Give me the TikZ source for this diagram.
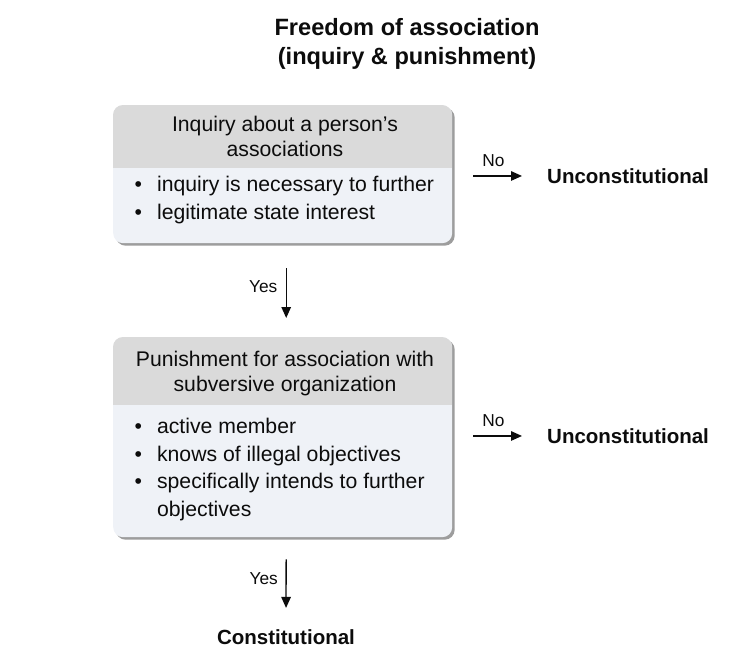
\documentclass[tikz,border=0pt]{standalone}
\usepackage{fontspec}
\setmainfont{Liberation Sans}
\usetikzlibrary{arrows.meta,shadows}
\definecolor{hdr}{RGB}{218,218,218}
\definecolor{bdy}{RGB}{239,242,247}
\definecolor{ink}{RGB}{12,12,12}
\begin{document}
\begin{tikzpicture}[x=1pt,y=-1pt,
  panel/.style={draw=none, fill=bdy, rounded corners=10pt, inner sep=0pt, anchor=north west,
    drop shadow={shadow xshift=2.5pt, shadow yshift=-2.5pt, fill=black!55, opacity=0.7}},
  titletext/.style={inner sep=0pt, anchor=base, text=ink, font=\fontsize{23.6}{29}\selectfont\bfseries},
  hdrtext/.style={inner sep=0pt, anchor=base, text=ink, font=\fontsize{21.2}{24.5}\selectfont},
  bodytext/.style={inner sep=0pt, anchor=base west, text=ink, font=\fontsize{21.2}{27.8}\selectfont},
  outcome/.style={inner sep=0pt, text=ink, font=\fontsize{20.5}{24}\selectfont\bfseries},
  lbl/.style={inner sep=0pt, text=ink, font=\fontsize{17.3}{19}\selectfont},
  arr/.style={draw=ink, line width=1.3pt, -{Triangle[length=11pt,width=9.5pt]}}
]
\useasboundingbox (0,0) rectangle (736,660);

% title
\node[titletext] (title) at (407,36) {\begin{tabular}[t]{@{}c@{}}Freedom of association\\(inquiry \& punishment)\end{tabular}};

% box 1
\node[panel, minimum width=339pt, minimum height=138pt] (b1) at (113,105) {};
\begin{scope}
  \clip[rounded corners=10pt] (113,105) rectangle (452,243);
  \fill[hdr] (113,105) rectangle (452,168);
\end{scope}
\node[hdrtext] (h1) at (285,131.7) {\begin{tabular}[t]{@{}c@{}}Inquiry about a person’s\\associations\end{tabular}};
\node[bodytext] (l1) at (134.5,192) {\begin{tabular}[t]{@{}l@{\hspace{15pt}}l@{}}•&inquiry is necessary to further\\•&legitimate state interest\end{tabular}};

% box 2
\node[panel, minimum width=339pt, minimum height=200pt] (b2) at (113,337) {};
\begin{scope}
  \clip[rounded corners=10pt] (113,337) rectangle (452,537);
  \fill[hdr] (113,337) rectangle (452,405);
\end{scope}
\node[hdrtext] (h2) at (285,366.7) {\begin{tabular}[t]{@{}c@{}}Punishment for association with\\subversive organization\end{tabular}};
\node[bodytext] (l2) at (134.5,433.3) {\begin{tabular}[t]{@{}l@{\hspace{15pt}}l@{}}•&active member\\•&knows of illegal objectives\\•&specifically intends to further\\&objectives\end{tabular}};

% outcomes
\node[outcome, anchor=base west] (u1) at (547,183.3) {Unconstitutional};
\node[outcome, anchor=base west] (u2) at (547,443.3) {Unconstitutional};
\node[outcome, anchor=base] (c1) at (286,644) {Constitutional};

% connectors
\draw[arr, shorten <=25pt, shorten >=19pt] ([xshift=3.5pt]b1.south) -- ([xshift=3.5pt]b2.north);
\draw[arr, shorten <=22pt, shorten >=21pt] ([xshift=3.5pt]b2.south) -- (c1.north);
\draw[arr, shorten <=21pt, shorten >=25pt] (b1.east |- u1.west) -- (u1.west);
\draw[arr, shorten <=21pt, shorten >=25pt] (b2.east |- u2.west) -- (u2.west);

% labels
\node[lbl, anchor=base east] (y1) at (277.5,292) {Yes};
\node[lbl, anchor=base east] (y2) at (278,584) {Yes};
\node[lbl, anchor=base] (n1) at (493.5,166.7) {No};
\node[lbl, anchor=base] (n2) at (493.5,426.7) {No};
\end{tikzpicture}
\end{document}
